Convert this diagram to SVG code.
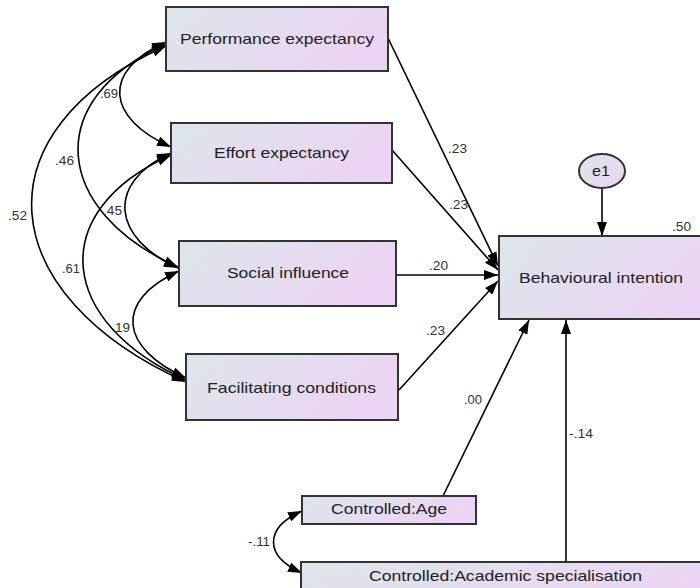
<svg xmlns="http://www.w3.org/2000/svg" width="700" height="588" viewBox="0 0 700 588">
<defs>
<linearGradient id="g" x1="0" y1="0" x2="1" y2="1">
<stop offset="0" stop-color="#dce6ea"/>
<stop offset="1" stop-color="#ecd4f4"/>
</linearGradient>
<linearGradient id="gh" x1="0" y1="0" x2="1" y2="0.35">
<stop offset="0" stop-color="#dce6ea"/>
<stop offset="1" stop-color="#ecd4f4"/>
</linearGradient>
<marker id="ah" viewBox="0 0 14 10" refX="14" refY="5" markerWidth="14" markerHeight="10" markerUnits="userSpaceOnUse" orient="auto-start-reverse">
<path d="M0,0 L14,5 L0,10 z" fill="#000"/>
</marker>
</defs>
<style>
.box{fill:url(#gh);stroke:#333;stroke-width:2}
.lbl{font-family:"Liberation Sans",Arial,sans-serif;font-size:14.5px;fill:#222}
.num{font-family:"Liberation Sans",Arial,sans-serif;font-size:12px;fill:#333}
.path{fill:none;stroke:#000;stroke-width:1.6;marker-end:url(#ah)}
.cov{fill:none;stroke:#000;stroke-width:1.6;marker-start:url(#ah);marker-end:url(#ah)}
</style>
<rect width="700" height="588" fill="#fff"/>

<g id="connectors">
<path class="path" d="M388,38 L498,266"/>
<path class="path" d="M392,150 L498,270"/>
<path class="path" d="M396,275 L498,275"/>
<path class="path" d="M399,390 L498,281"/>
<path class="path" d="M443,496 L529,320"/>
<path class="path" d="M566,562 L566,320"/>
<path class="path" d="M602,188 L602,236"/>
<path class="cov" d="M166,42 C101,71 106,118 171,147"/>
<path class="cov" d="M166,44 C41,100 53,211 178,267"/>
<path class="cov" d="M166,46 C-26,132 -6,296 186,382"/>
<path class="cov" d="M171,153 C105,183 112,238 178,268"/>
<path class="cov" d="M171,155 C44,212 59,323 186,380"/>
<path class="cov" d="M179,271 C113,301 120,348 186,378"/>
<path class="cov" d="M302,511 C264,528 264,556 302,573"/>
<text class="num" x="448" y="153" textLength="19" lengthAdjust="spacingAndGlyphs">.23</text>
<text class="num" x="449" y="209" textLength="19" lengthAdjust="spacingAndGlyphs">.23</text>
<text class="num" x="429" y="270" textLength="19" lengthAdjust="spacingAndGlyphs">.20</text>
<text class="num" x="426" y="335" textLength="19" lengthAdjust="spacingAndGlyphs">.23</text>
<text class="num" x="464" y="404" textLength="18" lengthAdjust="spacingAndGlyphs">.00</text>
<text class="num" x="569" y="438" textLength="24" lengthAdjust="spacingAndGlyphs">-.14</text>
<text class="num" x="672" y="231" textLength="19" lengthAdjust="spacingAndGlyphs">.50</text>
<text class="num" x="100" y="98" textLength="18" lengthAdjust="spacingAndGlyphs">.69</text>
<text class="num" x="55" y="165" textLength="19" lengthAdjust="spacingAndGlyphs">.46</text>
<text class="num" x="8" y="220" textLength="19" lengthAdjust="spacingAndGlyphs">.52</text>
<text class="num" x="103" y="215" textLength="19" lengthAdjust="spacingAndGlyphs">.45</text>
<text class="num" x="62" y="273" textLength="18" lengthAdjust="spacingAndGlyphs">.61</text>
<text class="num" x="115" y="332" textLength="15" lengthAdjust="spacingAndGlyphs">19</text>
<text class="num" x="248" y="546" textLength="22" lengthAdjust="spacingAndGlyphs">-.11</text>
</g>

<g id="pe">
<rect class="box" x="166" y="7" width="222" height="64"/>
<text class="lbl" x="180" y="44" textLength="194" lengthAdjust="spacingAndGlyphs">Performance expectancy</text>
</g>
<g id="ee">
<rect class="box" x="171" y="123" width="221" height="60"/>
<text class="lbl" x="214" y="158" textLength="135" lengthAdjust="spacingAndGlyphs">Effort expectancy</text>
</g>
<g id="si">
<rect class="box" x="179" y="241" width="217" height="65"/>
<text class="lbl" x="227" y="278" textLength="122" lengthAdjust="spacingAndGlyphs">Social influence</text>
</g>
<g id="fc">
<rect class="box" x="186" y="354" width="212" height="66"/>
<text class="lbl" x="207" y="393" textLength="169" lengthAdjust="spacingAndGlyphs">Facilitating conditions</text>
</g>
<g id="bi">
<rect class="box" x="499" y="236" width="230" height="83"/>
<text class="lbl" x="519" y="283" textLength="164" lengthAdjust="spacingAndGlyphs">Behavioural intention</text>
</g>
<g id="e1">
<ellipse cx="602" cy="171" rx="23" ry="17" fill="url(#g)" stroke="#333" stroke-width="2"/>
<text class="lbl" x="592" y="176" textLength="18" lengthAdjust="spacingAndGlyphs">e1</text>
</g>
<g id="age">
<rect class="box" x="302" y="496" width="174" height="28"/>
<text class="lbl" x="331" y="514" textLength="116" lengthAdjust="spacingAndGlyphs">Controlled:Age</text>
</g>
<g id="acad">
<rect class="box" x="301" y="562" width="430" height="40"/>
<text class="lbl" x="369" y="581" textLength="273" lengthAdjust="spacingAndGlyphs">Controlled:Academic specialisation</text>
</g>
</svg>
